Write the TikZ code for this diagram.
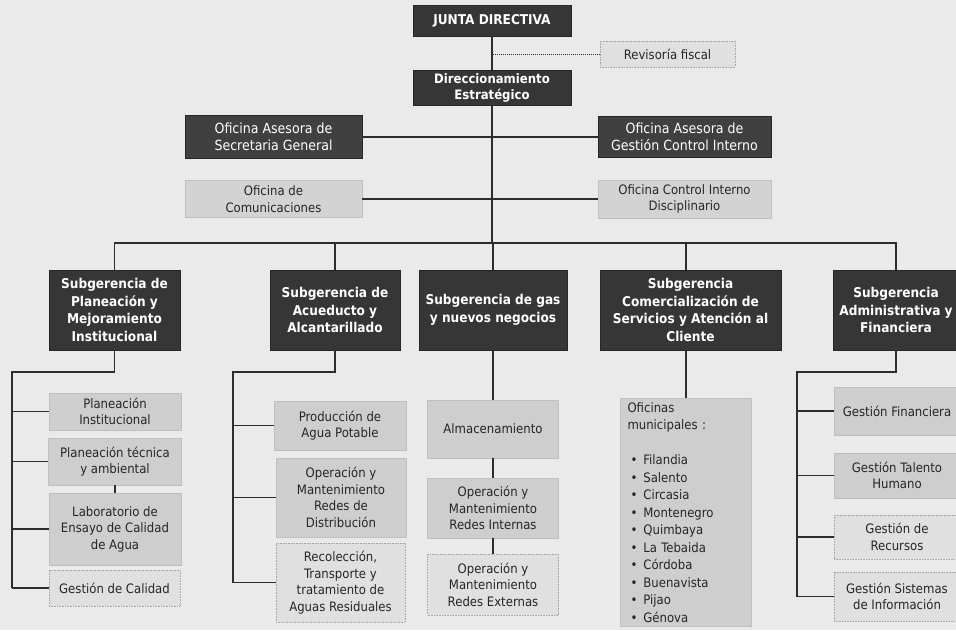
\documentclass[tikz,border=0pt]{standalone}
\usepackage{fontspec}
\newfontfamily\letra{DejaVu Sans Condensed}[BoldFont={DejaVu Sans Condensed Bold}]
\definecolor{fondo}{RGB}{234,234,234}
\definecolor{oscuro}{RGB}{54,54,54}
\definecolor{medio}{RGB}{206,206,206}
\definecolor{tenue}{RGB}{224,224,224}
\definecolor{trazo}{RGB}{45,45,45}

\begin{document}
\begin{tikzpicture}[x=1pt, y=-1pt,
        linea/.style={draw=trazo, line width=1.3pt},
        punteado/.style={draw=trazo, line width=1pt, densely dotted},
        jefe/.style={draw=black!85, fill=oscuro, text=white, align=center, inner sep=1pt,
            font=\letra\bfseries\fontsize{13.5}{17.5}\selectfont},
        asesor/.style={draw=black!85, fill=oscuro!95!white, text=white, align=center, inner sep=1pt,
            font=\letra\fontsize{14}{17.5}\selectfont},
        area/.style={draw=black!25, fill=medio, text=black!85, align=center, inner sep=1pt,
            font=\letra\fontsize{13}{16.5}\selectfont},
        apoyo/.style={draw=black!35, fill=tenue, text=black!85, align=center, inner sep=1pt,
            line width=0.6pt, densely dotted, font=\letra\fontsize{13}{16.5}\selectfont}]
        \newcommand{\rama}[2]{
            \draw [linea] (#2.west) -- (#2.west -| #1);
        }
        \newcommand{\punto}[1]{\hspace*{3pt}\textbullet\hspace{6pt}#1}

        \fill [fondo] (0,0) rectangle (956,630);
        \useasboundingbox (0,0) rectangle (956,630);
        \clip (0,0) rectangle (956,630);

        \node [jefe, minimum width=158pt, minimum height=31pt, font=\letra\bfseries\fontsize{13.5}{15}\selectfont] (junta) at (492,20.5) {JUNTA DIRECTIVA};
        \node [apoyo, minimum width=135pt, minimum height=26pt] (revisoria) at (667.5,54) {Revisoría fiscal};
        \node [jefe, minimum width=158pt, minimum height=35pt, font=\letra\bfseries\fontsize{13}{16}\selectfont] (direccion) at (492,87.5) {Direccionamiento\\Estratégico};

        \node [asesor, minimum width=177pt, minimum height=43pt] (secretaria) at (273.5,137) {Oficina Asesora de\\Secretaria General};
        \node [asesor, minimum width=173pt, minimum height=41pt] (control) at (684.5,137) {Oficina Asesora de\\Gestión Control Interno};
        \node [area, minimum width=177pt, minimum height=37pt, fill=medio!70!tenue] (comunica) at (273.5,199) {Oficina de\\Comunicaciones};
        \node [area, minimum width=173pt, minimum height=38pt, fill=medio!70!tenue] (disciplina) at (684.5,199) {Oficina Control Interno\\Disciplinario};

        \node [jefe, minimum width=131pt, minimum height=80pt] (sub1) at (114.5,310) {Subgerencia de\\Planeación y\\Mejoramiento\\Institucional};
        \node [jefe, minimum width=130pt, minimum height=80pt] (sub2) at (335,310) {Subgerencia de\\Acueducto y\\Alcantarillado};
        \node [jefe, minimum width=148pt, minimum height=80pt] (sub3) at (493,310) {Subgerencia de gas\\y nuevos negocios};
        \node [jefe, minimum width=181pt, minimum height=80pt] (sub4) at (690.5,310) {Subgerencia\\Comercialización de\\Servicios y Atención al\\Cliente};
        \node [jefe, minimum width=126pt, minimum height=80pt] (sub5) at (896,310) {Subgerencia\\Administrativa y\\Financiera};

        \node [area, minimum width=132pt, minimum height=37pt] (p1) at (115,411.5) {Planeación\\Institucional};
        \node [area, minimum width=133pt, minimum height=47pt] (p2) at (115,461.5) {Planeación técnica\\y ambiental};
        \node [area, minimum width=132pt, minimum height=72pt] (p3) at (115,529) {Laboratorio de\\Ensayo de Calidad\\de Agua};
        \node [apoyo, minimum width=131pt, minimum height=36pt] (p4) at (114.5,588) {Gestión de Calidad};

        \node [area, minimum width=132pt, minimum height=49pt] (a1) at (340,425.5) {Producción de\\Agua Potable};
        \node [area, minimum width=130pt, minimum height=79pt] (a2) at (341,497.5) {Operación y\\Mantenimiento\\Redes de\\Distribución};
        \node [apoyo, minimum width=129pt, minimum height=79pt] (a3) at (340.5,582.5) {Recolección,\\Transporte y\\tratamiento de\\Aguas Residuales};

        \node [area, minimum width=131pt, minimum height=58pt] (g1) at (493,429) {Almacenamiento};
        \node [area, minimum width=131pt, minimum height=60pt] (g2) at (493,508) {Operación y\\Mantenimiento\\Redes Internas};
        \node [apoyo, minimum width=131pt, minimum height=61pt] (g3) at (493,584.5) {Operación y\\Mantenimiento\\Redes Externas};

        \node [area, anchor=north, minimum width=131pt, text width=117pt, align=left, inner xsep=7pt, inner ysep=4pt,
            font=\letra\fontsize{13}{17.5}\selectfont] (oficinas) at (686,398)
            {Oficinas\\municipales :\\[17.5pt]\punto{Filandia}\\\punto{Salento}\\\punto{Circasia}\\\punto{Montenegro}\\\punto{Quimbaya}\\\punto{La Tebaida}\\\punto{Córdoba}\\\punto{Buenavista}\\\punto{Pijao}\\\punto{Génova}\\[20pt]};

        \node [area, minimum width=126pt, minimum height=48pt] (f1) at (897,411) {Gestión Financiera};
        \node [area, minimum width=126pt, minimum height=45pt] (f2) at (897,475.5) {Gestión Talento\\Humano};
        \node [apoyo, minimum width=126pt, minimum height=44pt] (f3) at (897,537) {Gestión de\\Recursos};
        \node [apoyo, minimum width=126pt, minimum height=49pt] (f4) at (897,596.5) {Gestión Sistemas\\de Información};

        \coordinate (bus) at (492,243);
        \coordinate (e1) at (12,372);
        \coordinate (e2) at (233,372);
        \coordinate (e5) at (797,372);

        \draw [linea] (junta.south) -- (direccion.north);
        \draw [punteado] (revisoria.west) -- (revisoria.west -| junta.south);
        \draw [linea] (direccion.south) -- (bus);
        \draw [linea] (secretaria.east) -- (control.west);
        \draw [linea] (comunica.east) -- (disciplina.west);
        \draw [linea] (sub1.north) |- (bus -| sub5.north) -- (sub5.north);
        \foreach \s in {sub2,sub3} {
            \draw [linea] (\s.north) -- (\s.north |- bus);
        }
        \draw [linea] (bus -| oficinas.north) -- (sub4.north -| oficinas.north);

        \draw [linea] (sub1.south) |- (e1) -- (e1 |- p4.west);
        \foreach \b in {p1,p2,p3,p4} {
            \rama{e1}{\b}
        }
        \draw [linea] (p2.south) -- (p3.north);

        \draw [linea] (sub2.south) |- (e2) -- (e2 |- a3.west);
        \foreach \b in {a1,a2,a3} {
            \rama{e2}{\b}
        }

        \draw [linea] (sub3.south) -- (g1.north);
        \draw [linea] (g1.south) -- (g2.north);
        \draw [linea] (g2.south) -- (g3.north);

        \draw [linea] (sub4.south -| oficinas.north) -- (oficinas.north);

        \draw [linea] (sub5.south) |- (e5) -- (e5 |- f4.west);
        \foreach \b in {f1,f2,f3,f4} {
            \rama{e5}{\b}
        }
    \end{tikzpicture}
\end{document}
